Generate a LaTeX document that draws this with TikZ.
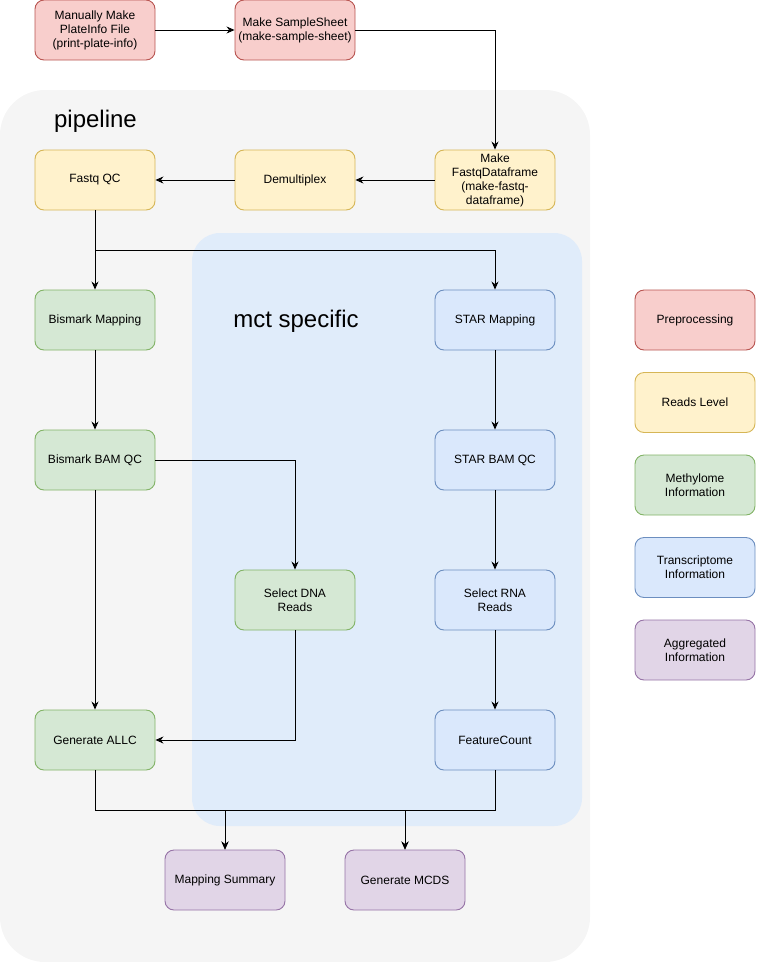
\documentclass[tikz,border=0pt]{standalone}
\usepackage{fontspec}
\setmainfont{Liberation Sans}
\usetikzlibrary{arrows.meta}
\definecolor{redF}{HTML}{F8CECC}\definecolor{redD}{HTML}{B85450}
\definecolor{yelF}{HTML}{FFF2CC}\definecolor{yelD}{HTML}{D6B656}
\definecolor{grnF}{HTML}{D5E8D4}\definecolor{grnD}{HTML}{82B366}
\definecolor{bluF}{HTML}{DAE8FC}\definecolor{bluD}{HTML}{6C8EBF}
\definecolor{purF}{HTML}{E1D5E7}\definecolor{purD}{HTML}{9673A6}
\definecolor{pipebg}{HTML}{F5F5F5}
\definecolor{mctbg}{HTML}{E0ECFA}
\begin{document}
\begin{tikzpicture}[x=1pt,y=-1pt,
  box/.style={draw, rounded corners=9pt, minimum width=120pt, minimum height=60pt,
    align=center, inner sep=2pt, line width=0.9pt, text=black,
    font=\fontsize{12}{14}\selectfont},
  redbox/.style={box, fill=redF, draw=redD},
  yelbox/.style={box, fill=yelF, draw=yelD},
  grnbox/.style={box, fill=grnF, draw=grnD},
  blubox/.style={box, fill=bluF, draw=bluD},
  purbox/.style={box, fill=purF, draw=purD},
  grouptitle/.style={font=\fontsize{24}{28}\selectfont, inner sep=0pt, text=black},
  arr/.style={-{Stealth[length=8pt,width=7pt]}, line width=0.9pt, black}
]
\useasboundingbox (0,0) rectangle (756,962);
\fill[pipebg, rounded corners=45pt] (0,90) rectangle (590,962);
\fill[mctbg, rounded corners=28pt] (192,233) rectangle (582,826);
\node[grouptitle] (pipelabel) at (95.5,121) {pipeline};
\node[grouptitle] (mctlabel) at (296,321) {mct specific};

\node[redbox] (A) at (95,30) {Manually Make\\PlateInfo File\\(print-plate-info)};
\node[redbox] (B) at (295,30) {Make SampleSheet\\(make-sample-sheet)};
\node[yelbox] (C) at (495,180) {Make\\FastqDataframe\\(make-fastq-\\dataframe)};
\node[yelbox] (D) at (295,180) {Demultiplex};
\node[yelbox] (E) at (95,180) {Fastq QC};
\node[grnbox] (F) at (95,320) {Bismark Mapping};
\node[blubox] (G) at (495,320) {STAR Mapping};
\node[grnbox] (H) at (95,460) {Bismark BAM QC};
\node[blubox] (I) at (495,460) {STAR BAM QC};
\node[grnbox] (J) at (295,600) {Select DNA\\Reads};
\node[blubox] (K) at (495,600) {Select RNA\\Reads};
\node[grnbox] (L) at (95,740) {Generate ALLC};
\node[blubox] (M) at (495,740) {FeatureCount};
\node[purbox] (N) at (225,880) {Mapping Summary};
\node[purbox] (O) at (405,880) {Generate MCDS};

\node[redbox] (lg1) at (695,320) {Preprocessing};
\node[yelbox] (lg2) at (695,402.5) {Reads Level};
\node[grnbox] (lg3) at (695,485) {Methylome\\Information};
\node[blubox] (lg4) at (695,567.5) {Transcriptome\\Information};
\node[purbox] (lg5) at (695,650) {Aggregated\\Information};

\draw[arr] (A) -- (B);
\draw[arr] (B.east) -| (C.north);
\draw[arr] (C) -- (D);
\draw[arr] (D) -- (E);
\draw[arr] (E) -- (F);
\draw[arr] (E.south) -- ++(0,40) -| (G.north);
\draw[arr] (F) -- (H);
\draw[arr] (G) -- (I);
\draw[arr] (H.east) -| (J.north);
\draw[arr] (H) -- (L);
\draw[arr] (J.south) |- (L.east);
\draw[arr] (I) -- (K);
\draw[arr] (K) -- (M);
\draw[arr] (L.south) -- ++(0,40) -| (N.north);
\draw[arr] (L.south) -- ++(0,40) -| (O.north);
\draw[arr] (M.south) -- ++(0,40) -| (O.north);
\draw[arr] (M.south) -- ++(0,40) -| (N.north);
\end{tikzpicture}
\end{document}
